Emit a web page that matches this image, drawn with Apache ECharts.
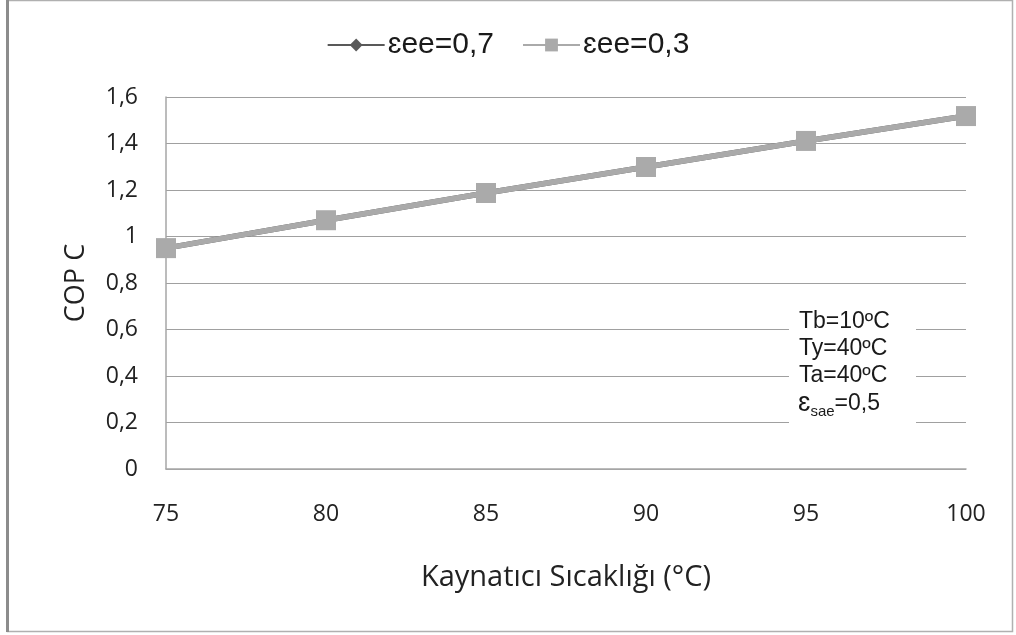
<!DOCTYPE html>
<html>
<head>
<meta charset="utf-8">
<script src="https://cdn.jsdelivr.net/npm/echarts@6/dist/echarts.min.js"></script>
<style>
  html, body { margin: 0; padding: 0; background: #ffffff; }
  #chart { width: 1016px; height: 635px; }
</style>
</head>
<body>
<div id="chart"></div>
<script>
// Generator temperature (°C) and cooling COP for two heat-exchanger effectiveness values
const temps = [75, 80, 85, 90, 95, 100];
const copEe07 = [0.95, 1.07, 1.187, 1.299, 1.411, 1.518];
const copEe03 = [0.95, 1.07, 1.187, 1.299, 1.411, 1.518];
const seriesNames = ['\u025Bee=0,7', '\u025Bee=0,3'];
const yTicks = { min: 0, max: 1.6, interval: 0.2 };
const xTicks = { min: 75, max: 100, interval: 5 };
const noteLines = ['Tb=10\u00BAC', 'Ty=40\u00BAC', 'Ta=40\u00BAC'];

const labelFont = '"Open Sans", "Liberation Sans", sans-serif';
const arialFont = 'Arial, "Liberation Sans", sans-serif';
const chart = echarts.init(document.getElementById('chart'));

const pairs = (ys) => temps.map((t, i) => [t, ys[i]]);
const fmt = (v) => String(Math.round(v * 10) / 10).replace('.', ',');

// Operating-condition notes, one text element per line
const noteGraphics = noteLines.map((line, i) => ({
  type: 'text',
  z: 11,
  silent: true,
  style: {
    x: 799, y: 322 + i * 27,
    text: line,
    font: '23px ' + arialFont,
    fill: '#1a1a1a',
    verticalAlign: 'middle'
  }
}));

chart.setOption({
  animation: false,
  backgroundColor: '#ffffff',
  grid: { left: 166, right: 50, top: 97, bottom: 166, containLabel: false },
  legend: {
    top: 25,
    left: 'center',
    itemWidth: 57,
    itemHeight: 16,
    itemGap: 28,
    textStyle: { fontFamily: arialFont, fontSize: 30, color: '#1a1a1a', padding: [0, 0, 0, -2] },
    data: seriesNames
  },
  xAxis: {
    type: 'value',
    min: xTicks.min, max: xTicks.max, interval: xTicks.interval,
    name: 'Kaynatıcı Sıcaklığı (°C)',
    nameLocation: 'middle',
    nameGap: 94,
    nameTextStyle: { fontFamily: labelFont, fontSize: 29, color: '#222' },
    axisLine: { show: true, onZero: false, lineStyle: { color: '#a6a6a6', width: 1.5 } },
    axisTick: { show: false },
    splitLine: { show: false },
    axisLabel: { margin: 34, fontFamily: labelFont, fontSize: 23, color: '#222' }
  },
  yAxis: {
    type: 'value',
    min: yTicks.min, max: yTicks.max, interval: yTicks.interval,
    name: 'COP C',
    nameLocation: 'middle',
    nameGap: 76,
    nameRotate: 90,
    nameTextStyle: { fontFamily: labelFont, fontSize: 27, color: '#222' },
    axisLine: { show: true, lineStyle: { color: '#a6a6a6', width: 1.5 } },
    axisTick: { show: false },
    splitLine: { show: true, lineStyle: { color: '#a0a0a0', width: 1.2 } },
    axisLabel: { margin: 28, fontFamily: labelFont, fontSize: 23, color: '#222', formatter: fmt }
  },
  series: [
    {
      name: seriesNames[0],
      type: 'line',
      data: pairs(copEe07),
      symbol: 'diamond',
      symbolSize: 14,
      z: 2,
      lineStyle: { color: '#595959', width: 5.5 },
      itemStyle: { color: '#595959' }
    },
    {
      name: seriesNames[1],
      type: 'line',
      data: pairs(copEe03),
      symbol: 'rect',
      symbolSize: 20,
      z: 3,
      lineStyle: { color: '#aaaaaa', width: 5.5 },
      itemStyle: { color: '#aaaaaa' }
    }
  ],
  graphic: [
    {
      type: 'rect',
      shape: { x: 7.5, y: 0.5, width: 1005, height: 631 },
      style: { fill: null, stroke: '#b0b0b0', lineWidth: 1.5 },
      silent: true
    },
    {
      type: 'line',
      shape: { x1: 7.5, y1: 0, x2: 7.5, y2: 632 },
      style: { stroke: '#8c8c8c', lineWidth: 3 },
      silent: true
    },
    {
      type: 'rect',
      shape: { x: 789, y: 305, width: 127, height: 125 },
      style: { fill: '#ffffff' },
      z: 10,
      silent: true
    }
  ].concat(noteGraphics, [
    {
      type: 'text',
      z: 11,
      silent: true,
      style: {
        x: 798, y: 404,
        text: '{eps|\u025B}{sub|sae}{n|=0,5}',
        verticalAlign: 'middle',
        fill: '#1a1a1a',
        rich: {
          eps: { font: '27px ' + arialFont, fill: '#1a1a1a', height: 30, verticalAlign: 'middle' },
          sub: { font: '15px ' + arialFont, fill: '#1a1a1a', padding: [16, 0, 0, 0], height: 30 },
          n: { font: '23px ' + arialFont, fill: '#1a1a1a', height: 30, verticalAlign: 'middle' }
        }
      }
    }
  ])
});
</script>
</body>
</html>
